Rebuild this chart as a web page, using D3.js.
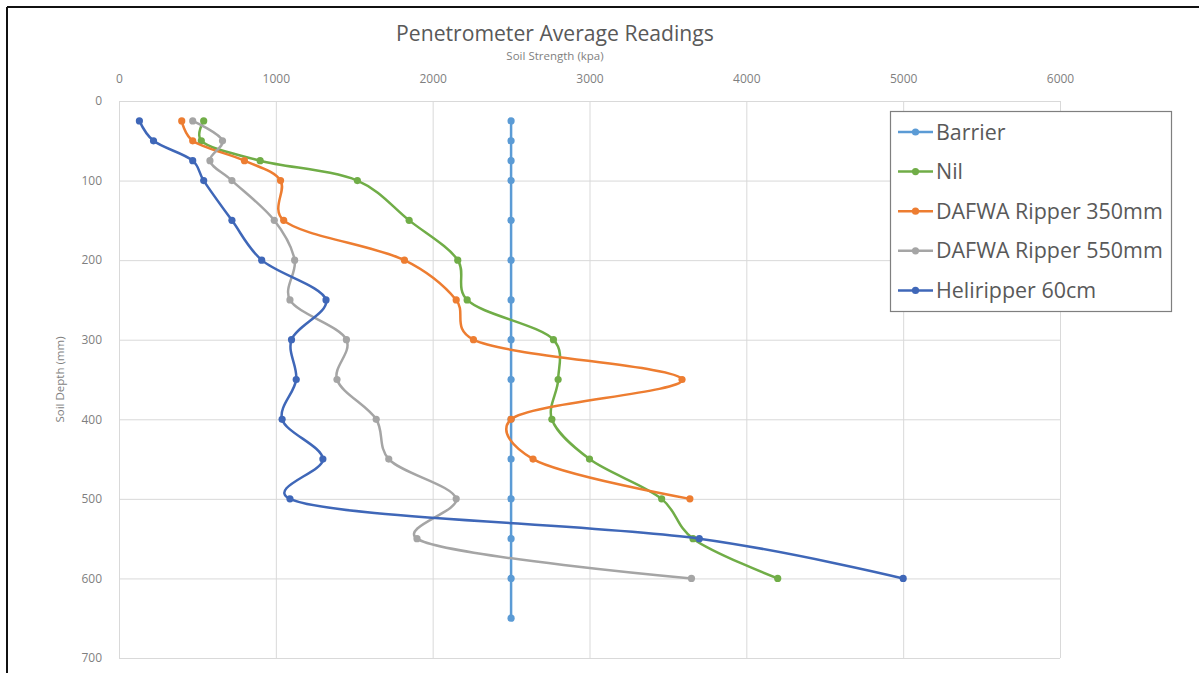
<!DOCTYPE html>
<html>
<head>
<meta charset="utf-8">
<script src="https://cdn.jsdelivr.net/npm/d3@7"></script>
<style>
    body { margin: 0; background: #fff; }
    text { font-family: "Open Sans", sans-serif; }
</style>
</head>
<body>
<svg id="chart" width="1199" height="673"></svg>
<script>
// soil depth (mm) for each reading
const depths = [25, 50, 75, 100, 150, 200, 250, 300, 350, 400, 450, 500, 550, 600];
const barrierDepths = [25, 50, 75, 100, 150, 200, 250, 300, 350, 400, 450, 500, 550, 600, 650];

// soil strength (kpa)
const barrier = [2500, 2500, 2500, 2500, 2500, 2500, 2500, 2500, 2500, 2500, 2500, 2500, 2500, 2500, 2500];
const nil = [540, 525, 900, 1520, 1850, 2160, 2220, 2770, 2800, 2760, 3000, 3460, 3660, 4200];
const dafwa350 = [400, 470, 800, 1030, 1050, 1820, 2150, 2260, 3590, 2500, 2640, 3640];
const dafwa550 = [470, 660, 580, 720, 990, 1120, 1090, 1450, 1390, 1640, 1720, 2150, 1900, 3650];
const heliripper = [130, 220, 470, 540, 720, 910, 1320, 1100, 1130, 1040, 1300, 1090, 3700, 5000];

const seriesNames = ["Barrier", "Nil", "DAFWA Ripper 350mm", "DAFWA Ripper 550mm", "Heliripper 60cm"];
const seriesColors = ["#5B9BD5", "#70AD47", "#ED7D31", "#A5A5A5", "#3F67B8"];

const xTicks = [0, 1000, 2000, 3000, 4000, 5000, 6000];
const yTicks = [0, 100, 200, 300, 400, 500, 600, 700];

const series = [
    {name: seriesNames[0], color: seriesColors[0], values: barrier, depths: barrierDepths, smooth: false},
    {name: seriesNames[1], color: seriesColors[1], values: nil, depths: depths, smooth: true},
    {name: seriesNames[2], color: seriesColors[2], values: dafwa350, depths: depths, smooth: true},
    {name: seriesNames[3], color: seriesColors[3], values: dafwa550, depths: depths, smooth: true},
    {name: seriesNames[4], color: seriesColors[4], values: heliripper, depths: depths, smooth: true}
];

let svg = d3.select("#chart");

let margin = {top: 101, right: 139, bottom: 15, left: 119},
    width = 1199 - margin.left - margin.right,
    height = 673 - margin.top - margin.bottom;

// outer frame (only top and left show in the picture)
svg.append("line").attr("x1", 7).attr("x2", 7).attr("y1", 7).attr("y2", 673)
    .attr("stroke", "#111").attr("stroke-width", 2);
svg.append("line").attr("x1", 7).attr("x2", 1199).attr("y1", 7).attr("y2", 7)
    .attr("stroke", "#111").attr("stroke-width", 2);

let g = svg.append("g")
    .attr("transform", "translate(" + margin.left + "," + margin.top + ")");

let xScale = d3.scaleLinear().domain([0, 6000]).range([0, width]);
let yScale = d3.scaleLinear().domain([0, 700]).range([0, height]);

//Gridlines
g.append("g")
    .call(d3.axisTop(xScale).tickValues(xTicks).tickSize(-height).tickFormat(""))
    .call(s => s.select(".domain").remove())
    .selectAll("line").attr("stroke", "#D9D9D9");

g.append("g")
    .call(d3.axisLeft(yScale).tickValues(yTicks).tickSize(-width).tickFormat(""))
    .call(s => s.select(".domain").remove())
    .selectAll("line").attr("stroke", "#D9D9D9");

//x Axis labels (top)
g.append("g")
    .attr("transform", "translate(0,-22)")
    .call(d3.axisTop(xScale).tickValues(xTicks).tickSize(0).tickFormat(d3.format("d")))
    .call(s => s.select(".domain").remove())
    .selectAll("text")
    .attr("font-family", "Open Sans")
    .attr("font-size", 12)
    .attr("fill", "#7F7F7F")
    .attr("dy", "0.35em")
    .attr("y", 0);

//y Axis labels
g.append("g")
    .attr("transform", "translate(-17,0)")
    .call(d3.axisLeft(yScale).tickValues(yTicks).tickSize(0).tickFormat(d3.format("d")))
    .call(s => s.select(".domain").remove())
    .selectAll("text")
    .attr("font-family", "Open Sans")
    .attr("font-size", 12)
    .attr("fill", "#7F7F7F")
    .attr("x", 0);

// fit a text element to a measured width
function fitWidth(sel, target)
{
    let w = sel.node().getComputedTextLength();
    let fs = parseFloat(sel.attr("font-size"));
    sel.attr("font-size", fs * target / w);
}

//Titles
let title = svg.append("text")
    .attr("x", 555).attr("y", 41)
    .attr("text-anchor", "middle")
    .attr("font-size", 20)
    .attr("fill", "#595959")
    .text("Penetrometer Average Readings");
fitWidth(title, 318);

svg.append("text")
    .attr("x", 555).attr("y", 60)
    .attr("text-anchor", "middle")
    .attr("font-size", 11.5)
    .attr("fill", "#7F7F7F")
    .text("Soil Strength (kpa)");

svg.append("text")
    .attr("transform", "translate(64," + (margin.top + height / 2) + ") rotate(-90)")
    .attr("text-anchor", "middle")
    .attr("font-size", 11.5)
    .attr("fill", "#7F7F7F")
    .text("Soil Depth (mm)");

//Lines and points
let smoothLine = d3.line()
    .x(d => xScale(d[0]))
    .y(d => yScale(d[1]))
    .curve(d3.curveCatmullRom.alpha(0.25));

let straightLine = d3.line()
    .x(d => xScale(d[0]))
    .y(d => yScale(d[1]));

series.forEach(s => {
    let pts = s.values.map((v, i) => [v, s.depths[i]]);
    let sg = g.append("g");
    sg.append("path")
        .attr("d", (s.smooth ? smoothLine : straightLine)(pts))
        .attr("fill", "none")
        .attr("stroke", s.color)
        .attr("stroke-width", 2.5)
        .attr("stroke-linejoin", "round");
    sg.selectAll("circle")
        .data(pts)
        .enter().append("circle")
        .attr("cx", d => xScale(d[0]))
        .attr("cy", d => yScale(d[1]))
        .attr("r", 3.6)
        .attr("fill", s.color);
});

//Legend
let legend = svg.append("g");
legend.append("rect")
    .attr("x", 890.5).attr("y", 111.5)
    .attr("width", 281).attr("height", 200)
    .attr("fill", "#fff")
    .attr("stroke", "#7F7F7F")
    .attr("stroke-width", 1.2);

let rows = legend.selectAll("g.row")
    .data(series)
    .enter().append("g")
    .attr("class", "row")
    .attr("transform", (d, i) => "translate(0," + (132 + i * 39.6) + ")");

rows.append("line")
    .attr("x1", 898).attr("x2", 933)
    .attr("stroke", d => d.color)
    .attr("stroke-width", 2.5);

rows.append("circle")
    .attr("cx", 915.5).attr("r", 3.6)
    .attr("fill", d => d.color);

let legendText = rows.append("text")
    .attr("x", 936)
    .attr("dy", "0.35em")
    .attr("font-size", 20)
    .attr("fill", "#595959")
    .text(d => d.name);

// size the legend font from the longest entry
let longest = legendText.filter(d => d.name === "DAFWA Ripper 350mm");
let fs = 20 * 227 / longest.node().getComputedTextLength();
legendText.attr("font-size", fs);
</script>
</body>
</html>
